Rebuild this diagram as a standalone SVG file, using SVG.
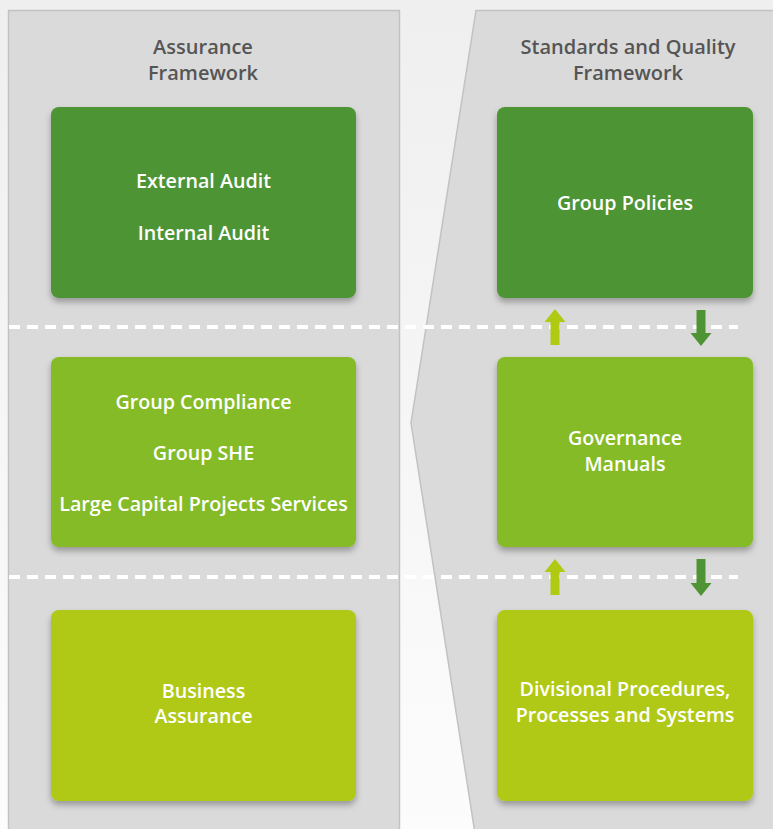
<svg xmlns="http://www.w3.org/2000/svg" width="773" height="829" viewBox="0 0 773 829">
<defs>
<linearGradient id="bg" x1="0" y1="0" x2="0" y2="1">
<stop offset="0" stop-color="#efefef"/>
<stop offset="1" stop-color="#fcfcfc"/>
</linearGradient>
<filter id="sh" x="-10%" y="-10%" width="120%" height="125%">
<feDropShadow dx="0" dy="4" stdDeviation="3" flood-color="#000" flood-opacity="0.3"/>
</filter>
</defs>
<style>
.panel{fill:#dadada;stroke:#c2c2c2;stroke-width:1.5}
.hd{font-family:"Open Sans","Liberation Sans",sans-serif;font-weight:600;font-size:20px;fill:#555;text-anchor:middle}
.bx{font-family:"Open Sans","Liberation Sans",sans-serif;font-weight:600;font-size:19.7px;fill:#fff;text-anchor:middle}
.dk{fill:#4e9434}
.md{fill:#84bb26}
.lt{fill:#b0c913}
.dash{stroke:#fff;stroke-width:4;stroke-dasharray:11 7;fill:none}
</style>
<rect x="0" y="0" width="773" height="829" fill="url(#bg)"/>
<g id="panel-assurance">
<rect class="panel" x="8.5" y="10.5" width="391" height="830"/>
<text class="hd" x="203" y="54">Assurance</text>
<text class="hd" x="203" y="80">Framework</text>
</g>
<g id="panel-standards">
<polygon class="panel" points="476,10.5 780,10.5 780,840 476,840 411,423"/>
<text class="hd" x="628" y="54">Standards and Quality</text>
<text class="hd" x="628" y="80">Framework</text>
</g>
<g id="dividers">
<line class="dash" x1="9" y1="327" x2="738" y2="327"/>
<line class="dash" x1="9" y1="577" x2="738" y2="577"/>
</g>
<g id="audit">
<rect class="dk" x="51" y="107" width="305" height="191" rx="8" filter="url(#sh)"/>
<text class="bx" x="203.5" y="188">External Audit</text>
<text class="bx" x="203.5" y="240">Internal Audit</text>
</g>
<g id="compliance">
<rect class="md" x="51" y="357" width="305" height="190" rx="8" filter="url(#sh)"/>
<text class="bx" x="203.5" y="409">Group Compliance</text>
<text class="bx" x="203.5" y="460">Group SHE</text>
<text class="bx" x="203.5" y="511">Large Capital Projects Services</text>
</g>
<g id="business">
<rect class="lt" x="51" y="610" width="305" height="191" rx="8" filter="url(#sh)"/>
<text class="bx" x="203.5" y="698">Business</text>
<text class="bx" x="203.5" y="723">Assurance</text>
</g>
<g id="policies">
<rect class="dk" x="497" y="107" width="256" height="191" rx="8" filter="url(#sh)"/>
<text class="bx" x="625" y="210">Group Policies</text>
</g>
<g id="manuals">
<rect class="md" x="497" y="357" width="256" height="190" rx="8" filter="url(#sh)"/>
<text class="bx" x="625" y="445">Governance</text>
<text class="bx" x="625" y="471">Manuals</text>
</g>
<g id="procedures">
<rect class="lt" x="497" y="610" width="256" height="191" rx="8" filter="url(#sh)"/>
<text class="bx" x="625" y="696">Divisional Procedures,</text>
<text class="bx" x="625" y="722">Processes and Systems</text>
</g>
<g id="connectors">
<polygon class="lt" points="555,309 565.5,322 559.5,322 559.5,345 550.5,345 550.5,322 544.5,322"/>
<polygon class="dk" points="696.5,310 705.5,310 705.5,333 711.5,333 701,346 690.5,333 696.5,333"/>
<polygon class="lt" points="555,559 565.5,572 559.5,572 559.5,595 550.5,595 550.5,572 544.5,572"/>
<polygon class="dk" points="696.5,559 705.5,559 705.5,583 711.5,583 701,596 690.5,583 696.5,583"/>
</g>
</svg>
